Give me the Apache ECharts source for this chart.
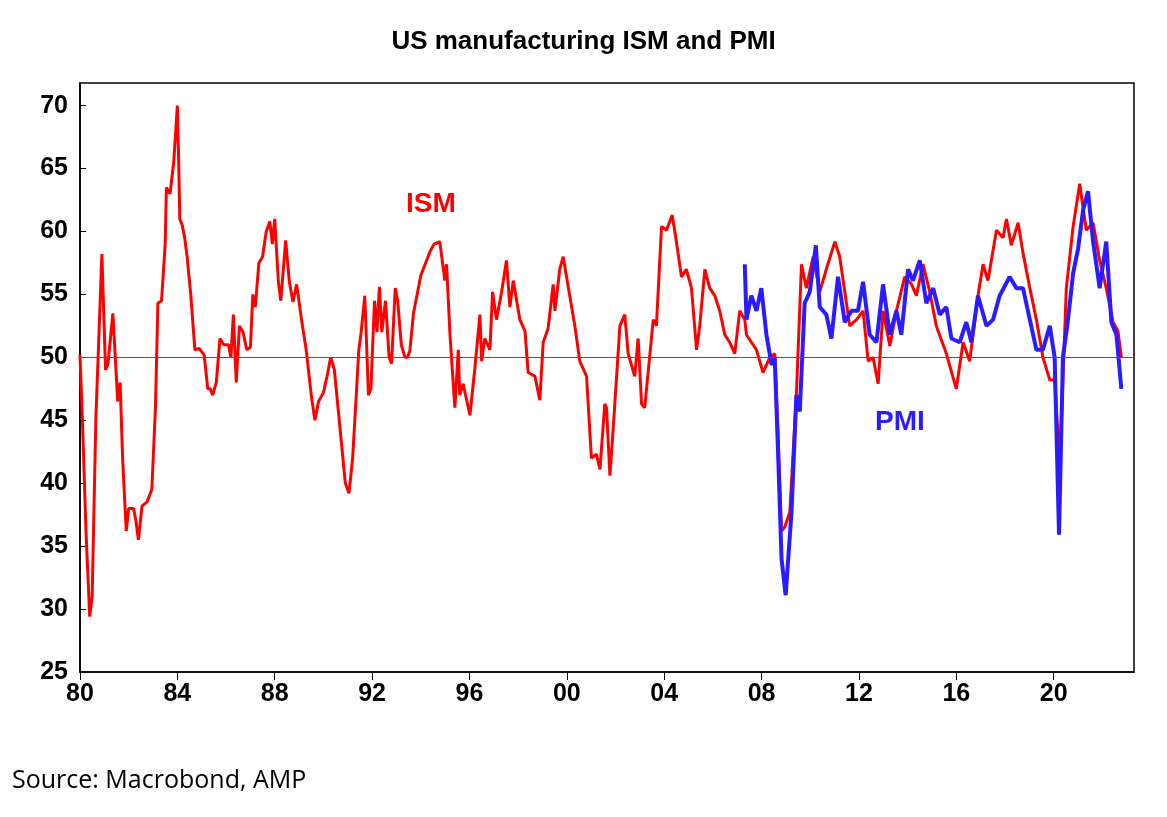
<!DOCTYPE html>
<html>
<head>
<meta charset="UTF-8">
<title>US manufacturing ISM and PMI</title>
<script src="https://cdn.jsdelivr.net/npm/echarts@6/dist/echarts.min.js"></script>
<style>
  html,body{margin:0;height:100%;background:#fff;}
  #chart{width:1167px;height:817px;}
</style>
</head>
<body>
<div id="chart"></div>
<script>
// [year, index]
const ism = [
  [1980.0,50.2],[1980.1,45],[1980.25,36],[1980.4,29.4],[1980.5,31],[1980.65,45],[1980.9,58.2],[1981.05,49],[1981.15,49.5],
  [1981.35,53.5],[1981.55,46.5],[1981.65,48],[1981.75,42],[1981.9,36.2],[1982.0,38],[1982.2,38],[1982.3,37],[1982.4,35.5],
  [1982.55,38.2],[1982.75,38.5],[1982.95,39.5],[1983.1,46],[1983.2,54.3],[1983.35,54.5],[1983.5,59],[1983.55,63.5],[1983.7,63],
  [1983.85,65.5],[1984.0,70],[1984.05,66],[1984.1,61],[1984.2,60.5],[1984.3,59.5],[1984.4,58],[1984.55,55],[1984.72,50.6],
  [1984.9,50.7],[1985.1,50.2],[1985.25,47.5],[1985.35,47.5],[1985.45,47],[1985.6,48],[1985.75,51.5],[1985.9,51],[1986.1,51],
  [1986.2,50],[1986.3,53.4],[1986.42,48],[1986.55,52.5],[1986.7,52],[1986.85,50.6],[1987.0,50.8],[1987.1,55],[1987.2,54],
  [1987.35,57.5],[1987.5,58],[1987.65,60],[1987.8,60.8],[1987.9,59],[1988.0,61],[1988.15,56],[1988.25,54.5],[1988.45,59.3],
  [1988.6,56],[1988.75,54.4],[1988.9,55.8],[1989.1,53],[1989.3,50.5],[1989.5,47],[1989.65,45],[1989.8,46.5],[1990.0,47.2],
  [1990.15,48.5],[1990.3,50],[1990.45,49],[1990.6,46],[1990.75,43],[1990.9,40],[1991.05,39.2],[1991.2,42],[1991.35,47],
  [1991.45,50.5],[1991.55,52],[1991.7,54.9],[1991.85,47],[1991.95,47.5],[1992.1,54.5],[1992.2,52],[1992.3,55.6],[1992.4,52],
  [1992.55,54.5],[1992.7,50],[1992.8,49.5],[1992.95,55.5],[1993.05,54.5],[1993.2,51],[1993.35,50],[1993.45,50],[1993.55,50.5],
  [1993.7,53.5],[1993.85,55],[1994.0,56.5],[1994.2,57.5],[1994.4,58.5],[1994.55,59],[1994.78,59.2],[1994.99,56.1],[1995.06,57.4],
  [1995.2,51.8],[1995.4,46],[1995.54,50.6],[1995.6,47],[1995.74,47.9],[1996.02,45.4],[1996.22,49.1],[1996.43,53.4],[1996.5,49.7],
  [1996.63,51.5],[1996.84,50.6],[1996.95,55.2],[1997.11,53],[1997.32,55.2],[1997.52,57.7],[1997.66,54],[1997.8,56.1],[1998.07,53],
  [1998.28,52.1],[1998.41,48.8],[1998.69,48.5],[1998.89,46.6],[1999.03,51.2],[1999.23,52.3],[1999.44,55.8],[1999.51,53.7],
  [1999.71,57],[1999.85,58],[2000.12,54.9],[2000.33,52.5],[2000.53,49.7],[2000.81,48.5],[2001.01,42],[2001.22,42.3],[2001.36,41.1],
  [2001.56,46.3],[2001.63,46],[2001.77,40.6],[2001.9,44.2],[2002.18,52.5],[2002.38,53.4],[2002.52,50.3],[2002.79,48.5],
  [2002.93,51.5],[2003.07,46.3],[2003.2,46],[2003.34,48.8],[2003.55,53],[2003.68,52.5],[2003.89,60.4],[2004.09,60.1],[2004.33,61.3],
  [2004.5,59.2],[2004.71,56.4],[2004.91,57],[2005.12,55.5],[2005.33,50.6],[2005.46,52.5],[2005.67,57],[2005.87,55.5],[2006.08,54.9],
  [2006.28,53.7],[2006.49,51.8],[2006.69,51.2],[2006.9,50.3],[2007.1,53.7],[2007.31,53],[2007.38,51.8],[2007.79,50.6],[2008.06,48.8],
  [2008.34,50],[2008.54,50.3],[2008.68,43.9],[2008.82,36.2],[2008.95,36.5],[2009.16,37.7],[2009.43,47],[2009.64,57.4],[2009.84,55.5],
  [2010.12,58],[2010.39,55.2],[2010.66,57],[2011.01,59.2],[2011.21,58],[2011.42,55.2],[2011.62,52.5],[2011.9,53],[2012.17,53.7],
  [2012.38,49.7],[2012.58,50],[2012.79,47.9],[2012.99,53.7],[2013.27,50.9],[2013.54,53.7],[2013.88,56.4],[2014.16,55.8],[2014.36,54.9],
  [2014.63,57.4],[2014.91,55.2],[2015.18,52.5],[2015.59,50.3],[2016.0,47.5],[2016.28,51.2],[2016.55,49.7],[2016.89,54.9],
  [2017.1,57.4],[2017.3,56.1],[2017.65,60.1],[2017.92,59.5],[2018.06,61],[2018.26,58.9],[2018.54,60.7],[2018.74,58.3],[2019.02,55.5],
  [2019.29,53],[2019.56,50],[2019.84,48.2],[2020.04,48.2],[2020.25,41.5],[2020.52,55.5],[2020.8,60.4],[2021.07,63.8],[2021.34,60.1],
  [2021.62,60.7],[2021.89,57.7],[2022.16,55.5],[2022.44,52.8],[2022.64,52.1],[2022.78,50]
];
const pmi = [
  [2007.31,57.4],[2007.38,53],[2007.58,54.9],[2007.79,53.7],[2007.99,55.5],[2008.2,51.8],[2008.41,49.4],[2008.54,50],[2008.68,42.3],
  [2008.82,34],[2008.99,31.1],[2009.23,37.7],[2009.43,47],[2009.57,45.7],[2009.77,54.3],[2009.98,55.2],[2010.23,58.9],[2010.39,54],
  [2010.66,53.4],[2010.87,51.5],[2011.14,56.4],[2011.42,52.8],[2011.69,53.7],[2011.96,53.7],[2012.17,56],[2012.44,51.8],[2012.72,51.2],
  [2012.99,55.8],[2013.27,51.8],[2013.54,53.7],[2013.74,51.8],[2014.02,57],[2014.22,56.1],[2014.5,57.7],[2014.77,54.3],[2015.05,55.5],
  [2015.32,53.4],[2015.59,54],[2015.8,51.5],[2016.14,51.2],[2016.41,52.8],[2016.62,51.2],[2016.89,54.9],[2017.24,52.5],[2017.51,53],
  [2017.78,54.9],[2018.19,56.4],[2018.47,55.5],[2018.74,55.5],[2019.02,53],[2019.29,50.6],[2019.56,50.6],[2019.84,52.5],[2020.04,50],
  [2020.22,35.9],[2020.38,50],[2020.59,53],[2020.8,56.7],[2021.0,58.6],[2021.21,61.7],[2021.41,63.2],[2021.62,59.2],[2021.89,55.5],
  [2022.16,59.2],[2022.37,52.8],[2022.58,51.8],[2022.78,47.5]
];

const chart = echarts.init(document.getElementById('chart'));
const axisFont = {fontFamily:'Liberation Sans',fontWeight:'bold',fontSize:25,color:'#000'};
chart.setOption({
  animation:false,
  title:{text:'US manufacturing ISM and PMI',left:'center',top:24,
    textStyle:{fontFamily:'Liberation Sans',fontWeight:'bold',fontSize:26,color:'#000'}},
  grid:{left:80,right:33,top:83,bottom:145,show:true,borderColor:'#000',borderWidth:1.5},
  xAxis:{type:'value',min:1980,max:2023.3,interval:4,
    axisLine:{lineStyle:{color:'#000',width:1.5}},
    axisTick:{length:8,lineStyle:{color:'#000'}},
    splitLine:{show:false},
    axisLabel:Object.assign({margin:10,showMaxLabel:false,formatter:v=>String(v%100).padStart(2,'0')},axisFont)},
  yAxis:{type:'value',min:25,max:71.8,interval:5,
    axisLine:{show:true,lineStyle:{color:'#000',width:1.5}},
    axisTick:{show:true,inside:true,length:6,lineStyle:{color:'#000'}},
    splitLine:{show:false},
    axisLabel:Object.assign({margin:12,showMaxLabel:false},axisFont)},
  series:[
    {name:'ISM',type:'line',data:ism,symbol:'none',lineStyle:{color:'#ff0000',width:3},
     markLine:{silent:true,symbol:'none',label:{show:false},lineStyle:{color:'#555',width:1.2,type:'solid'},data:[{yAxis:50}]}},
    {name:'PMI',type:'line',data:pmi,symbol:'none',lineStyle:{color:'#2b1bff',width:4}}
  ],
  graphic:[
    {type:'text',left:406,top:190,style:{text:'ISM',fill:'#ff0000',font:'bold 28px "Liberation Sans"'}},
    {type:'text',left:875,top:408,style:{text:'PMI',fill:'#2b1bff',font:'bold 28px "Liberation Sans"'}},
    {type:'text',left:12,top:768,style:{text:'Source: Macrobond, AMP',fill:'#000',font:'25px "Open Sans"'}}
  ]
});
</script>
</body>
</html>
